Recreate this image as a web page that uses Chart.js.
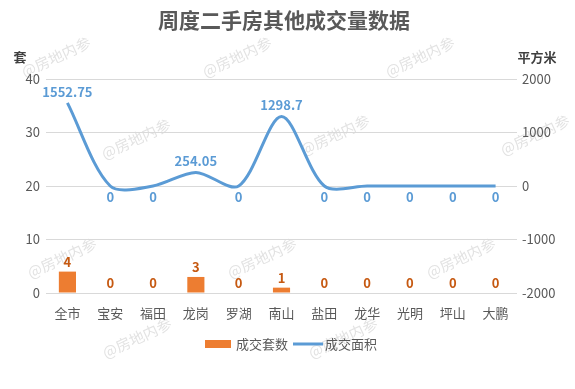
<!DOCTYPE html>
<html>
<head>
<meta charset="utf-8">
<script src="https://cdn.jsdelivr.net/npm/chart.js@4/dist/chart.umd.min.js"></script>
<style>
  html, body { margin: 0; padding: 0; background: #fff; }
  #wrap { width: 575px; height: 389px; position: relative; }
</style>
</head>
<body>
<div id="wrap"><canvas id="c" width="575" height="389"></canvas></div>
<script>
const districts = ['全市', '宝安', '福田', '龙岗', '罗湖', '南山', '盐田', '龙华', '光明', '坪山', '大鹏'];
const dealCount = [4, 0, 0, 3, 0, 1, 0, 0, 0, 0, 0];
const dealArea  = [1552.75, 0, 0, 254.05, 0, 1298.7, 0, 0, 0, 0, 0];
const areaLabels = ['1552.75', '0', '0', '254.05', '0', '1298.7', '0', '0', '0', '0', '0'];

const FONT = '"Noto Sans CJK SC", "Noto Sans", sans-serif';
const ORANGE = '#ED7D31';
const BLUE = '#5B9BD5';
const TEXT = '#595959';

// title, axis captions, watermarks, value labels, legend
const decor = {
    id: 'decor',
    beforeDraw(chart) {
        const ctx = chart.ctx;
        ctx.save();
        ctx.font = '15px ' + FONT;
        ctx.fillStyle = 'rgba(190,190,190,0.45)';
        ctx.textAlign = 'center';
        ctx.textBaseline = 'middle';
        const marks = [[56, 57], [237, 57], [420, 57], [136, 139], [335, 135], [535, 135],
                       [62, 258], [262, 258], [461, 258], [137, 338], [343, 338]];
        marks.forEach(([x, y]) => {
            ctx.save();
            ctx.translate(x, y);
            ctx.rotate(-25 * Math.PI / 180);
            ctx.fillText('@房地内参', 0, 0);
            ctx.restore();
        });
        ctx.restore();
    },
    afterDatasetsDraw(chart) {
        const ctx = chart.ctx;
        ctx.save();
        ctx.textAlign = 'center';
        ctx.textBaseline = 'middle';

        ctx.font = 'bold 21px ' + FONT;
        ctx.fillStyle = TEXT;
        ctx.fillText('周度二手房其他成交量数据', 284, 20);

        ctx.font = 'bold 13px ' + FONT;
        ctx.fillStyle = '#404040';
        ctx.fillText('套', 20, 57);
        ctx.fillText('平方米', 537, 57);

        const bars = chart.getDatasetMeta(0).data;
        ctx.fillStyle = '#C65911';
        bars.forEach((b, i) => ctx.fillText(String(dealCount[i]), b.x, b.y - 10));

        const pts = chart.getDatasetMeta(1).data;
        ctx.fillStyle = BLUE;
        pts.forEach((p, i) => {
            const dy = dealArea[i] > 0 ? -11 : 11;
            ctx.fillText(areaLabels[i], p.x, p.y + dy);
        });

        // legend
        ctx.font = '13px ' + FONT;
        ctx.fillStyle = ORANGE;
        ctx.fillRect(205, 340, 26, 8);
        ctx.fillStyle = TEXT;
        ctx.textAlign = 'left';
        ctx.fillText('成交套数', 236, 344);
        ctx.strokeStyle = BLUE;
        ctx.lineWidth = 3;
        ctx.beginPath();
        ctx.moveTo(293, 344);
        ctx.lineTo(323, 344);
        ctx.stroke();
        ctx.fillText('成交面积', 325, 344);
        ctx.restore();
    }
};

new Chart(document.getElementById('c').getContext('2d'), {
    data: {
        labels: districts,
        datasets: [
            {
                type: 'bar',
                label: '成交套数',
                data: dealCount,
                backgroundColor: ORANGE,
                yAxisID: 'y',
                categoryPercentage: 1,
                barPercentage: 0.4,
                order: 2,
            },
            {
                type: 'line',
                label: '成交面积',
                data: dealArea,
                borderColor: BLUE,
                borderWidth: 3,
                pointRadius: 0,
                tension: 0.3,
                yAxisID: 'y1',
                order: 1,
            },
        ],
    },
    options: {
        responsive: false,
        animation: false,
        layout: { padding: { top: 79, left: 0, right: 0, bottom: 0 } },
        plugins: { legend: { display: false }, tooltip: { enabled: false } },
        scales: {
            x: {
                grid: { display: false },
                border: { display: false },
                ticks: { color: TEXT, font: { family: FONT, size: 13 }, padding: 4 },
                afterFit(s) { s.height = 96; },
            },
            y: {
                position: 'left',
                min: 0, max: 40,
                ticks: { stepSize: 10, color: TEXT, font: { family: FONT, size: 13 }, padding: 6 },
                grid: { color: '#D9D9D9', drawTicks: false },
                border: { display: false },
                afterFit(s) { s.width = 46; },
            },
            y1: {
                position: 'right',
                min: -2000, max: 2000,
                ticks: {
                    stepSize: 1000, color: TEXT, font: { family: FONT, size: 13 }, padding: 5,
                    callback: v => String(v),
                },
                grid: { display: false, drawTicks: false },
                border: { display: false },
                afterFit(s) { s.width = 58; },
            },
        },
    },
    plugins: [decor],
});
</script>
</body>
</html>
